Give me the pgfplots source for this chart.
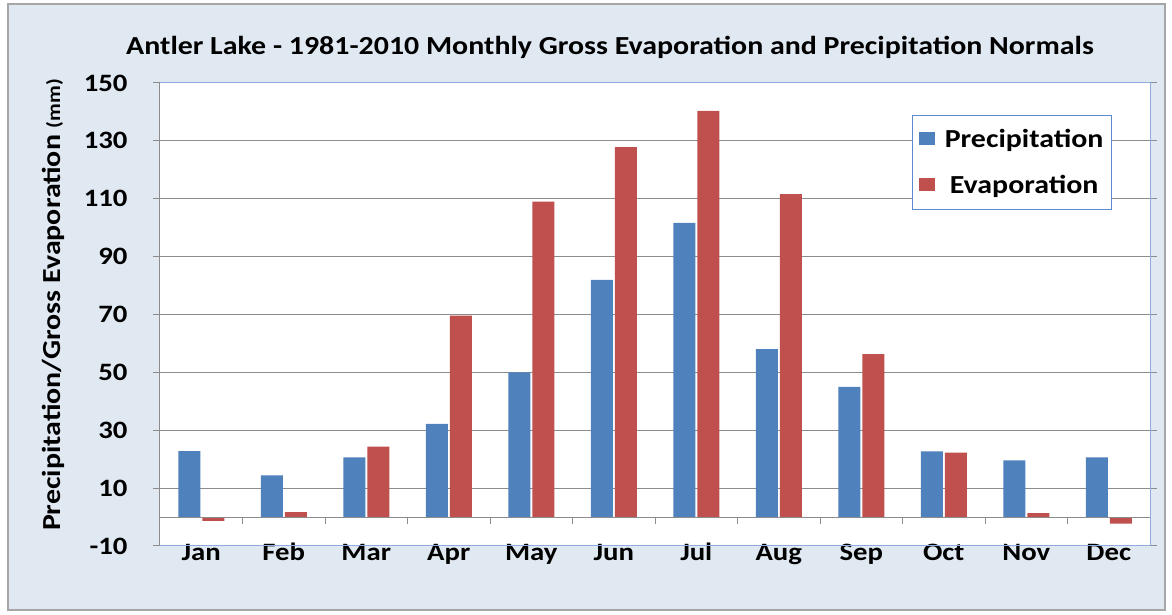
\documentclass[border=0pt]{standalone}
\usepackage{pgfplots}
\pgfplotsset{compat=1.18}
\usepackage{fontspec}
\setmainfont{Carlito}[FakeStretch=1.15]
\definecolor{pblue}{HTML}{4F81BD}
\definecolor{ered}{HTML}{C0504D}
\definecolor{bgblue}{HTML}{E0E8F2}
\definecolor{frameblue}{HTML}{5B8AD0}
\definecolor{gridgrey}{HTML}{8C8C8C}
\begin{document}
\begin{tikzpicture}[x=1pt,y=1pt]
\useasboundingbox (-160,-69) rectangle (1012,546);
\fill[bgblue,draw=gray!70,line width=1.5pt] (-152,-64) rectangle (1005,542);
\fill[white] (0,0) rectangle (990,463);
\begin{axis}[
  at={(0,0)}, anchor=south west,
  scale only axis, width=990pt, height=463pt,
  xmin=-0.5, xmax=11.5, ymin=-10, ymax=150,
  ybar, bar width=22pt,
  xtick={0,...,11},
  xticklabels={Jan,Feb,Mar,Apr,May,Jun,Jul,Aug,Sep,Oct,Nov,Dec},
  ytick={-10,10,30,50,70,90,110,130,150},
  ymajorgrids, grid style={gridgrey,line width=1pt},
  major x tick style={draw=none},
  major y tick style={gridgrey,line width=1pt},
  tick align=outside, major tick length=7pt,
  axis line style={draw=none},
  ticklabel style={font=\fontsize{25}{30}\selectfont\bfseries},
  xticklabel style={yshift=13pt, text height=17pt, text depth=5pt},
  yticklabel style={xshift=-22pt},
  /pgf/number format/assume math mode=true,
  legend style={at={(0.9616,0.931)}, anchor=north east, draw=frameblue, line width=1pt,
    font=\fontsize{26}{31}\selectfont\bfseries, fill=white, inner xsep=6pt, inner ysep=12pt,
    row sep=22pt},
  legend image code/.code={\fill[#1,draw=none] (0pt,-6pt) rectangle (16pt,7pt); \path (24pt,0pt);},
  clip=false,
]
\addplot[fill=pblue, draw=none] coordinates {(0,22.8) (1,14.4) (2,20.6) (3,32.2) (4,50.0) (5,82.0) (6,101.7) (7,58.0) (8,45.0) (9,22.7) (10,19.6) (11,20.6)};
\addplot[fill=ered, draw=none] coordinates {(0,-1.3) (1,1.7) (2,24.3) (3,69.6) (4,109.0) (5,127.8) (6,140.4) (7,111.6) (8,56.3) (9,22.3) (10,1.4) (11,-2.3)};
\legend{Precipitation,Evaporation}
\draw[gridgrey,line width=1pt] (axis cs:-0.5,0) -- (axis cs:11.5,0);
\pgfplotsinvokeforeach{0.5,1.5,2.5,3.5,4.5,5.5,6.5,7.5,8.5,9.5,10.5}{\draw[gridgrey,line width=1pt] (axis cs:#1,0) -- (axis cs:#1,-2.4);}
\end{axis}
\draw[frameblue!70,line width=1pt] (0,0) -- (990,0) -- (990,463) -- (0,463);
\draw[gridgrey,line width=1pt] (0,0) -- (0,463);
\node[font=\fontsize{26}{31}\selectfont\bfseries] at (450,499) {Antler Lake - 1981-2010 Monthly Gross Evaporation and Precipitation Normals};
\node[rotate=90,font=\fontsize{26}{31}\selectfont\bfseries] at (-107,241) {Precipitation/Gross Evaporation {\fontsize{19}{23}\selectfont (mm)}};
\end{tikzpicture}
\end{document}
